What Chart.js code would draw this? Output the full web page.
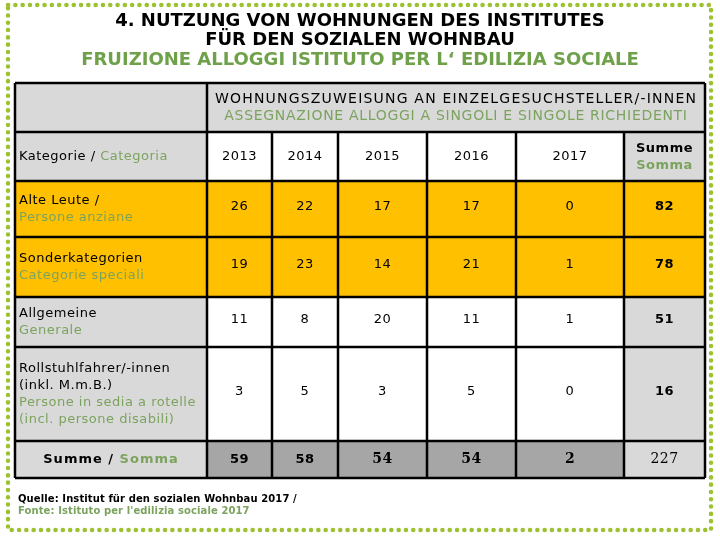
<!DOCTYPE html>
<html>
<head>
<meta charset="utf-8">
<script src="https://cdn.jsdelivr.net/npm/chart.js@4.4.1/dist/chart.umd.min.js"></script>
<style>
    html, body { margin: 0; padding: 0; background: #fff; }
    #wrap { width: 720px; height: 540px; position: relative; }
</style>
</head>
<body>
<div id="wrap"><canvas id="table-chart"></canvas></div>
<script>
const years = ['2013', '2014', '2015', '2016', '2017'];
const categoriesDe = [['Alte Leute /'], ['Sonderkategorien'], ['Allgemeine'], ['Rollstuhlfahrer/-innen', '(inkl. M.m.B.)']];
const categoriesIt = [['Persone anziane'], ['Categorie speciali'], ['Generale'], ['Persone in sedia a rotelle', '(incl. persone disabili)']];
const alteLeute = [26, 22, 17, 17, 0];
const sonderkategorien = [19, 23, 14, 21, 1];
const allgemeine = [11, 8, 20, 11, 1];
const rollstuhlfahrer = [3, 5, 3, 5, 0];
const rowTotals = [82, 78, 51, 16];
const yearTotals = [59, 58, 54, 54, 2];
const grandTotal = 227;

const rows = [alteLeute, sonderkategorien, allgemeine, rollstuhlfahrer];

// layout of the grid, in scale units (px of the table)
const colEdges = [0, 192, 257, 323, 412, 501, 609, 690];
const rowEdges = [0, 49, 98, 154, 214, 264, 358, 395];
const rowFills = ['#ffc000', '#ffc000', null, null];

const FONT = '"DejaVu Sans", Verdana, sans-serif';
const SERIF = '"DejaVu Serif", Georgia, serif';
const GREEN = '#7ba35e';
const LGREY = '#d9d9d9';
const DGREY = '#a6a6a6';

function px(chart, c) { return chart.scales.x.getPixelForValue(colEdges[c]); }
function py(chart, r) { return chart.scales.y.getPixelForValue(rowEdges[r]); }

function fillCell(chart, c0, c1, r0, r1, color) {
    const ctx = chart.ctx;
    ctx.fillStyle = color;
    ctx.fillRect(px(chart, c0), py(chart, r0), px(chart, c1) - px(chart, c0), py(chart, r1) - py(chart, r0));
}

// draw one line made of coloured pieces
function drawSegments(ctx, segs, x, y, align, spacing) {
    ctx.letterSpacing = (spacing || 0) + 'px';
    let total = 0;
    segs.forEach(s => { ctx.font = s.font; total += ctx.measureText(s.text).width; });
    let start = x;
    if (align === 'center') start = x - total / 2;
    ctx.textAlign = 'left';
    ctx.textBaseline = 'middle';
    segs.forEach(s => {
        ctx.font = s.font;
        ctx.fillStyle = s.color;
        ctx.fillText(s.text, start, y);
        start += ctx.measureText(s.text).width;
    });
    ctx.letterSpacing = '0px';
}

function centerX(chart, c) { return (px(chart, c) + px(chart, c + 1)) / 2; }
function centerY(chart, r) { return (py(chart, r) + py(chart, r + 1)) / 2; }

const tablePlugin = {
    id: 'tableCells',
    beforeDatasetsDraw(chart) {
        const ctx = chart.ctx;
        const n = colEdges.length - 1;
        const reg = '13px ' + FONT;
        const bold = 'bold 13px ' + FONT;
        const sp = 0.5;
        ctx.save();

        // backgrounds
        fillCell(chart, 0, n, 0, 1, LGREY);
        fillCell(chart, 0, 1, 1, 2, LGREY);
        fillCell(chart, 1, n - 1, 1, 2, '#ffffff');
        fillCell(chart, n - 1, n, 1, 2, LGREY);
        rows.forEach((r, i) => {
            if (rowFills[i]) {
                fillCell(chart, 0, n, i + 2, i + 3, rowFills[i]);
            } else {
                fillCell(chart, 0, 1, i + 2, i + 3, LGREY);
                fillCell(chart, 1, n - 1, i + 2, i + 3, '#ffffff');
                fillCell(chart, n - 1, n, i + 2, i + 3, LGREY);
            }
        });
        const last = rowEdges.length - 2;
        fillCell(chart, 0, 1, last, last + 1, LGREY);
        fillCell(chart, 1, n - 1, last, last + 1, DGREY);
        fillCell(chart, n - 1, n, last, last + 1, LGREY);

        // header texts
        const hx = (px(chart, 1) + px(chart, n)) / 2;
        const hy = centerY(chart, 0);
        const head = '14px ' + FONT;
        drawSegments(ctx, [{ text: 'WOHNUNGSZUWEISUNG AN EINZELGESUCHSTELLER/-INNEN', color: '#000', font: head }], hx, hy - 8, 'center', 1.2);
        drawSegments(ctx, [{ text: 'ASSEGNAZIONE ALLOGGI A SINGOLI E SINGOLE RICHIEDENTI', color: GREEN, font: head }], hx, hy + 9, 'center', 0.7);

        const ky = centerY(chart, 1);
        drawSegments(ctx, [
            { text: 'Kategorie / ', color: '#000', font: reg },
            { text: 'Categoria', color: GREEN, font: reg }
        ], px(chart, 0) + 4, ky, 'left', sp);
        years.forEach((y, j) => {
            drawSegments(ctx, [{ text: y, color: '#000', font: reg }], centerX(chart, j + 1), ky, 'center', sp);
        });
        drawSegments(ctx, [{ text: 'Summe', color: '#000', font: bold }], centerX(chart, n - 1), ky - 8, 'center', sp);
        drawSegments(ctx, [{ text: 'Somma', color: GREEN, font: bold }], centerX(chart, n - 1), ky + 9, 'center', sp);

        // category rows
        rows.forEach((vals, i) => {
            const cy = centerY(chart, i + 2);
            const lines = categoriesDe[i].map(t => ({ text: t, color: '#000' }))
                .concat(categoriesIt[i].map(t => ({ text: t, color: GREEN })));
            const top = cy - (lines.length - 1) * 17 / 2;
            lines.forEach((l, k) => {
                drawSegments(ctx, [{ text: l.text, color: l.color, font: reg }], px(chart, 0) + 4, top + k * 17, 'left', sp);
            });
            vals.forEach((v, j) => {
                drawSegments(ctx, [{ text: String(v), color: '#000', font: reg }], centerX(chart, j + 1), cy - 2, 'center', sp);
            });
            drawSegments(ctx, [{ text: String(rowTotals[i]), color: '#000', font: bold }], centerX(chart, n - 1), cy - 2, 'center', sp);
        });

        // totals row
        const sy = centerY(chart, last);
        drawSegments(ctx, [
            { text: 'Summe / ', color: '#000', font: bold },
            { text: 'Somma', color: GREEN, font: bold }
        ], centerX(chart, 0), sy, 'center', 1);
        yearTotals.forEach((v, j) => {
            const f = j < 2 ? bold : 'bold 14px ' + SERIF;
            drawSegments(ctx, [{ text: String(v), color: '#000', font: f }], centerX(chart, j + 1), sy, 'center', sp);
        });
        drawSegments(ctx, [{ text: String(grandTotal), color: '#000', font: '14px ' + SERIF }], centerX(chart, n - 1), sy, 'center', sp);

        // grid lines
        ctx.strokeStyle = '#000';
        ctx.lineWidth = 2.5;
        ctx.beginPath();
        for (let r = 0; r < rowEdges.length; r++) {
            ctx.moveTo(px(chart, 0), py(chart, r));
            ctx.lineTo(px(chart, n), py(chart, r));
        }
        for (let c = 0; c <= n; c++) {
            const fromRow = (c === 0 || c === 1 || c === n) ? 0 : 1;
            ctx.moveTo(px(chart, c), py(chart, fromRow));
            ctx.lineTo(px(chart, c), py(chart, rowEdges.length - 1));
        }
        ctx.stroke();
        ctx.restore();
    },
    afterDraw(chart) {
        const ctx = chart.ctx;
        ctx.save();
        // source note
        drawSegments(ctx, [{ text: 'Quelle: Institut für den sozialen Wohnbau 2017 /', color: '#000', font: 'bold 10px ' + FONT }], 18, 499, 'left', 0.1);
        drawSegments(ctx, [{ text: 'Fonte: Istituto per l\'edilizia sociale 2017', color: GREEN, font: 'bold 10px ' + FONT }], 18, 511, 'left', 0.1);

        // dotted frame
        ctx.strokeStyle = '#9dc130';
        ctx.lineWidth = 4.5;
        ctx.lineCap = 'round';
        ctx.setLineDash([0.1, 7.2]);
        ctx.strokeRect(8, 5, 703, 525);
        ctx.restore();
    }
};

new Chart(document.getElementById('table-chart'), {
    type: 'scatter',
    data: { datasets: [] },
    options: {
        responsive: true,
        maintainAspectRatio: false,
        animation: false,
        devicePixelRatio: 1,
        layout: {
            padding: { top: 0, left: 15, right: 15, bottom: 62 }
        },
        scales: {
            x: { type: 'linear', display: false, min: 0, max: 690 },
            y: { type: 'linear', display: false, min: 0, max: 395, reverse: true }
        },
        plugins: {
            legend: { display: false },
            tooltip: { enabled: false },
            title: {
                display: true,
                text: ['4. NUTZUNG VON WOHNUNGEN DES INSTITUTES', 'FÜR DEN SOZIALEN WOHNBAU'],
                color: '#000',
                font: { family: FONT, size: 18, weight: 'bold', lineHeight: 1.08 },
                padding: { top: 11.3, bottom: 0 }
            },
            subtitle: {
                display: true,
                text: 'FRUIZIONE ALLOGGI ISTITUTO PER L‘ EDILIZIA SOCIALE',
                color: '#6fa04a',
                font: { family: FONT, size: 18, weight: 'bold', lineHeight: 1.08 },
                padding: { top: 0, bottom: 13.4 }
            }
        }
    },
    plugins: [tablePlugin]
});
</script>
</body>
</html>
